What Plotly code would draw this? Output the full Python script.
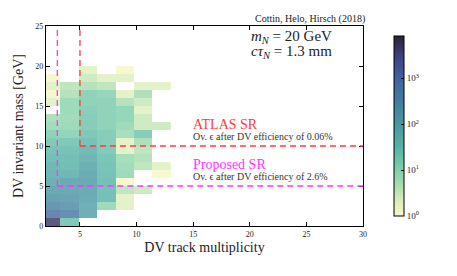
import numpy as np
import plotly.graph_objects as go

# ---- data: event counts per (track multiplicity bin, invariant mass bin) ----
mass_start = 0.0
mass_bin = 1.0
mult_bin = 49 / 30          # multiplicity bin width
mult_first_centre = 1.5 * mult_bin  # centre of first visible multiplicity bin
N = None
# each list: counts for mass bins 0-1, 1-2, ..., 19-20 GeV
mult_c0 = [5000, 700, 280, 180, 120, 80, 60, 50, 38, 28, 20, 14, 8, 6, N, 2, 1, 2, 1, N]
mult_c1 = [22, 450, 200, 150, 120, 110, 55, 40, 36, 30, 22, 12, 9, 8, 9, 9, 5, 4, N, N]
mult_c2 = [N, 80, 80, 100, 110, 115, 100, 80, 55, 45, 30, 22, 18, 18, 16, 14, 14, 5, 3, 2]
mult_c3 = [N, N, 9, 35, 35, 33, 30, 28, 26, 20, 18, 18, 14, 14, 14, 13, 11, 4, 2, N]
mult_c4 = [N, N, 2, 2, 4, 1, 9, 8, 7, 2, 2, 7, 9, 11, 11, 5, 2, N, 2, 1]
mult_c5 = [N, N, N, N, 3, N, N, 4, 5, 4, 6, 18, 3, 3, 2, 3, 6, 2, N, N]
mult_c6 = [N, N, N, N, N, N, 1, 2, N, N, N, N, 3, N, N, N, N, 2, N, N]

atlas_sr = {"mult": 5, "mass": 10}
proposed_sr = {"mult": 3, "mass": 5}
cbar_tick_vals = [0, 1, 2, 3]
cbar_tick_text = ["10<sup>0</sup>", "10<sup>1</sup>", "10<sup>2</sup>", "10<sup>3</sup>"]
log_max = 3.92

cols = [mult_c0, mult_c1, mult_c2, mult_c3, mult_c4, mult_c5, mult_c6]
counts = np.array([[np.nan if v is None else v for v in c] for c in cols], dtype=float).T
z = np.log10(counts)

serif = "Liberation Serif"
colorscale = [
    [0.0, "#f7f7c4"],
    [0.077, "#dcefbc"],
    [0.153, "#b0e0ae"],
    [0.255, "#7fd0aa"],
    [0.38, "#54b4a6"],
    [0.51, "#4898a2"],
    [0.64, "#437ca0"],
    [0.765, "#44609f"],
    [0.88, "#3c4486"],
    [1.0, "#2c2238"],
]

fig = go.Figure()
fig.add_trace(go.Heatmap(
    z=z,
    x0=mult_first_centre, dx=mult_bin,
    y0=mass_start + mass_bin / 2, dy=mass_bin,
    zmin=0, zmax=log_max,
    colorscale=colorscale,
    opacity=0.8,
    hoverongaps=False,
    colorbar=dict(
        x=1.066, xanchor="left", y=0.5, yanchor="middle", len=1.0, lenmode="fraction",
        thickness=10, outlinecolor="black", outlinewidth=1,
        tickvals=cbar_tick_vals, ticktext=cbar_tick_text,
        ticks="inside", ticklen=3, tickcolor="black",
        tickfont=dict(family=serif, size=9, color="#222"),
    ),
))

# signal region boundaries
red = "#ff3b3b"
mag = "#ff33ff"
dash = "6px,4px"
fig.add_shape(type="line", x0=atlas_sr["mult"], x1=atlas_sr["mult"], y0=atlas_sr["mass"], y1=25,
              xref="x", yref="y", line=dict(color=red, width=1.3, dash=dash))
fig.add_shape(type="line", x0=atlas_sr["mult"], x1=30, y0=atlas_sr["mass"], y1=atlas_sr["mass"],
              xref="x", yref="y", line=dict(color=red, width=1.3, dash=dash))
fig.add_shape(type="line", x0=proposed_sr["mult"], x1=proposed_sr["mult"], y0=proposed_sr["mass"], y1=25,
              xref="x", yref="y", line=dict(color=mag, width=1.3, dash=dash))
fig.add_shape(type="line", x0=proposed_sr["mult"], x1=30, y0=proposed_sr["mass"], y1=proposed_sr["mass"],
              xref="x", yref="y", line=dict(color=mag, width=1.3, dash=dash))

ann = [
    dict(x=1.008, y=1.035, xanchor="right", yanchor="middle",
         text="Cottin, Helo, Hirsch (2018)", font=dict(family=serif, size=10, color="#222")),
    dict(x=0.645, y=0.945, xanchor="left", yanchor="middle",
         text="<i>m</i><sub><i>N</i></sub> = 20 GeV", font=dict(family=serif, size=15, color="#222")),
    dict(x=0.645, y=0.87, xanchor="left", yanchor="middle",
         text="<i>cτ</i><sub><i>N</i></sub> = 1.3 mm", font=dict(family=serif, size=15, color="#222")),
    dict(x=0.462, y=0.507, xanchor="left", yanchor="middle",
         text="ATLAS SR", font=dict(family=serif, size=14, color=red)),
    dict(x=0.462, y=0.448, xanchor="left", yanchor="middle",
         text="Ov. ϵ after DV efficiency of 0.06%", font=dict(family=serif, size=10, color="#333")),
    dict(x=0.462, y=0.307, xanchor="left", yanchor="middle",
         text="Proposed SR", font=dict(family=serif, size=14, color=mag)),
    dict(x=0.462, y=0.248, xanchor="left", yanchor="middle",
         text="Ov. ϵ after DV efficiency of 2.6%", font=dict(family=serif, size=10, color="#333")),
]
for a in ann:
    a.update(showarrow=False, xref="paper", yref="paper", borderpad=0)
    fig.add_annotation(**a)

axis_common = dict(showline=True, linecolor="black", linewidth=1.2, mirror="ticks",
                   ticks="inside", ticklen=4, tickcolor="black", showgrid=False, zeroline=False,
                   automargin=False,
                   tickfont=dict(family=serif, size=8, color="#222"))
fig.update_xaxes(range=[2, 30], tickvals=[5, 10, 15, 20, 25, 30],
                 title=dict(text="DV track multiplicity", font=dict(family=serif, size=14, color="#222"), standoff=4),
                 **axis_common)
fig.update_yaxes(range=[0, 25], tickvals=[0, 5, 10, 15, 20, 25],
                 title=dict(text="DV invariant mass [GeV]", font=dict(family=serif, size=14, color="#222"), standoff=8),
                 **axis_common)

# page body adds an 8px offset, so the figure is 8px smaller and margins shifted
fig.update_layout(
    width=449, height=268,
    margin=dict(l=38, r=94, t=18, b=50, autoexpand=False),
    plot_bgcolor="white", paper_bgcolor="white",
    showlegend=False,
)
fig.write_html("out.html")
